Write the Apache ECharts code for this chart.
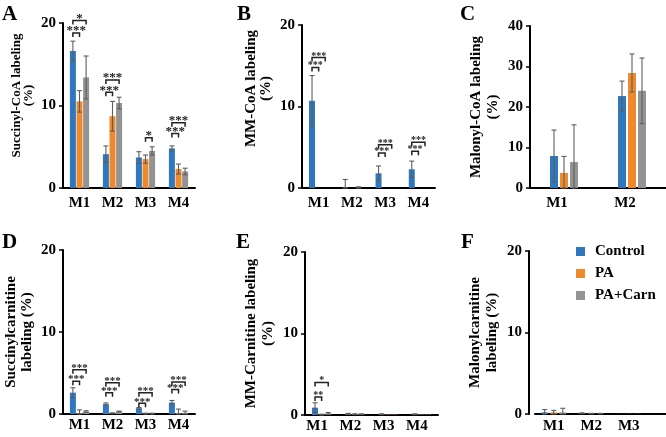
<!DOCTYPE html>
<html><head><meta charset="utf-8">
<script src="https://cdn.jsdelivr.net/npm/echarts@6/dist/echarts.min.js"></script>
<style>html,body{margin:0;padding:0;background:#fff}#c{width:666px;height:437px}</style>
</head><body><div id="c"></div>
<script>
// ---------- data ----------
const seriesNames = ['Control', 'PA', 'PA+Carn'];
const catsA = ['M1', 'M2', 'M3', 'M4'];
const aCtrl = [16.6, 4.1, 3.7, 4.8];   const aCtrlErr = [1.2, 1.0, 0.7, 0.3];
const aPA   = [10.5, 8.7, 3.5, 2.3];   const aPAErr   = [1.3, 1.8, 0.5, 0.6];
const aCarn = [13.4, 10.3, 4.5, 2.0];  const aCarnErr = [2.6, 0.7, 0.5, 0.4];
const aSig = [[0,0,1,18.8,'***'],[0,0,2,20.3,'*'],[1,0,1,11.6,'***'],[1,0,2,13.1,'***'],[2,1,2,6.1,'*'],[3,0,1,6.6,'***'],[3,0,2,7.9,'***']];

const catsB = ['M1', 'M2', 'M3', 'M4'];
const bCtrl = [10.7, 0.05, 1.8, 2.3];  const bCtrlErr = [3.1, 1.0, 0.9, 1.0];
const bPA   = [0, 0, 0, 0];            const bPAErr   = [0, 0, 0, 0];
const bCarn = [0, 0.05, 0, 0];         const bCarnErr = [0, 0.1, 0, 0];
const bSig = [[0,0,1,14.8,'***'],[0,0,2,16.0,'***'],[2,0,1,4.3,'***'],[2,0,2,5.3,'***'],[3,0,1,4.5,'***'],[3,0,2,5.6,'***']];

const catsC = ['M1', 'M2'];
const cCtrl = [7.9, 22.7];  const cCtrlErr = [6.4, 3.7];
const cPA   = [3.7, 28.4];  const cPAErr   = [4.1, 4.7];
const cCarn = [6.4, 24.0];  const cCarnErr = [9.2, 8.1];
const cSig = [];

const catsD = ['M1', 'M2', 'M3', 'M4'];
const dCtrl = [2.6, 1.2, 0.7, 1.4];     const dCtrlErr = [0.6, 0.15, 0.1, 0.25];
const dPA   = [0.1, 0.1, 0.05, 0.1];    const dPAErr   = [0.4, 0.05, 0.05, 0.5];
const dCarn = [0.3, 0.3, 0.05, 0.15];   const dCarnErr = [0.1, 0.05, 0.05, 0.2];
const dSig = [[0,0,1,4.0,'***'],[0,0,2,5.4,'***'],[1,0,1,2.6,'***'],[1,0,2,3.8,'***'],[2,0,1,1.3,'***'],[2,0,2,2.6,'***'],[3,0,1,3.0,'***'],[3,0,2,3.9,'***']];

const catsE = ['M1', 'M2', 'M3', 'M4'];
const eCtrl = [0.9, 0.15, 0.1, 0.1];    const eCtrlErr = [0.6, 0.05, 0.05, 0.05];
const ePA   = [0.05, 0.1, 0.05, 0.05];  const ePAErr   = [0.05, 0.05, 0, 0];
const eCarn = [0.2, 0.1, 0.05, 0.05];   const eCarnErr = [0.1, 0.05, 0, 0];
const eSig = [[0,0,1,2.2,'**'],[0,0,2,4.0,'*']];

const catsF = ['M1', 'M2', 'M3'];
const fCtrl = [0.2, 0.1, 0.02];   const fCtrlErr = [0.35, 0.05, 0];
const fPA   = [0.2, 0.05, 0.02];  const fPAErr   = [0.25, 0.03, 0];
const fCarn = [0.2, 0.05, 0.02];  const fCarnErr = [0.5, 0.03, 0];
const fSig = [];

// ---------- layout / style ----------
const FONT = '"Liberation Serif","Times New Roman",serif';
const COLORS = ['#2f78bd', '#ee8a2d', '#939393'];
const ERR = '#5e5e5e';

const panels = [
  {letter:'A', lx:2, ly:4, cats:catsA, vals:[aCtrl,aPA,aCarn], errs:[aCtrlErr,aPAErr,aCarnErr], sig:aSig, max:20, interval:10,
   name:'Succinyl-CoA labeling\n(%)', grid:{left:63, top:23, width:132, height:165}, bw:6, gap:0.1, nfs:13, nlh:12, npad:20, lpad:0, lm:8, sfs:13, yoff:0},
  {letter:'B', lx:237, ly:4, cats:catsB, vals:[bCtrl,bPA,bCarn], errs:[bCtrlErr,bPAErr,bCarnErr], sig:bSig, max:20, interval:10,
   name:'MM-CoA labeling\n(%)', grid:{left:302, top:25, width:133, height:163}, bw:6, gap:0.1, nfs:15, nlh:15, npad:36, lpad:0, lm:8, sfs:10, yoff:0},
  {letter:'C', lx:460, ly:4, cats:catsC, vals:[cCtrl,cPA,cCarn], errs:[cCtrlErr,cPAErr,cCarnErr], sig:cSig, max:40, interval:10,
   name:'Malonyl-CoA labeling\n(%)', grid:{left:530, top:26, width:136, height:162}, bw:8, gap:0.25, nfs:15, nlh:17, npad:0, lpad:14, lm:8, sfs:10, yoff:0},
  {letter:'D', lx:2, ly:232, cats:catsD, vals:[dCtrl,dPA,dCarn], errs:[dCtrlErr,dPAErr,dCarnErr], sig:dSig, max:20, interval:10,
   name:'Succinylcarnitine\nlabeling (%)', grid:{left:63, top:250, width:132, height:164}, bw:6, gap:0.1, nfs:15, nlh:16, npad:0, lpad:0, lm:4, sfs:11, yoff:0},
  {letter:'E', lx:236, ly:232, cats:catsE, vals:[eCtrl,ePA,eCarn], errs:[eCtrlErr,ePAErr,eCarnErr], sig:eSig, max:20, interval:10,
   name:'MM-Carnitine labeling\n(%)', grid:{left:305, top:252, width:133, height:163}, bw:6, gap:0.1, nfs:15, nlh:17, npad:0, lpad:9, lm:4, sfs:10, yoff:0},
  {letter:'F', lx:461, ly:232, cats:catsF, vals:[fCtrl,fPA,fCarn], errs:[fCtrlErr,fPAErr,fCarnErr], sig:fSig, max:20, interval:10,
   name:'Malonylcarnitine\nlabeling (%)', grid:{left:535, top:251, width:150, height:163}, bw:7, gap:0.3, nfs:15, nlh:17, npad:0, lpad:0, lm:5, sfs:10, yoff:6, extraCat:true}
];

const grids = [], xAxes = [], yAxes = [], series = [], titles = [];
panels.forEach((p, i) => {
  grids.push(Object.assign({outerBoundsMode:'none', containLabel:false}, p.grid));
  titles.push({text:p.letter, left:p.lx, top:p.ly, padding:0, textStyle:{fontFamily:FONT, fontWeight:'bold', fontSize:21, color:'#000'}});
  xAxes.push({type:'category', gridIndex:i, data: p.extraCat ? p.cats.concat(['']) : p.cats,
    axisLine:{show:true, lineStyle:{color:'#000', width:2}}, axisTick:{show:false},
    axisLabel:{fontFamily:FONT, fontWeight:'bold', fontSize:15, color:'#000', margin:p.lm, padding:[0, p.lpad, 0, 0]}});
  yAxes.push({type:'value', gridIndex:i, min:0, max:p.max, interval:p.interval, offset:p.yoff,
    axisLine:{show:true, lineStyle:{color:'#000', width:2}},
    axisTick:{show:true, length:4, lineStyle:{color:'#000', width:1.5}},
    splitLine:{show:false},
    axisLabel:{fontFamily:FONT, fontWeight:'bold', fontSize:15, color:'#000', margin:7},
    name:p.name, nameLocation:'middle', nameRotate:90, nameGap:28,
    nameTextStyle:{fontFamily:FONT, fontWeight:'bold', fontSize:p.nfs, color:'#000', lineHeight:p.nlh, align:'center', padding:[0,0,0,p.npad]}});
  const step = p.bw * (1 + p.gap);
  p.vals.forEach((v, s) => {
    series.push({type:'bar', name:seriesNames[s], xAxisIndex:i, yAxisIndex:i, data:v, barWidth:p.bw, barGap:(p.gap*100)+'%',
      itemStyle:{color:COLORS[s]}, animation:false});
  });
  // error bars
  const errData = [];
  p.vals.forEach((v, s) => v.forEach((val, c) => errData.push([c, val, s, p.errs[s][c]])));
  series.push({type:'custom', xAxisIndex:i, yAxisIndex:i, data:errData, encode:{x:0, y:1}, clip:false, animation:false, silent:true, z:5,
    renderItem:(params, api) => {
      const c = api.value(0), v = api.value(1), s = api.value(2), e = api.value(3);
      if (!(e > 0)) return null;
      const x = api.coord([c, v])[0] + (s - 1) * step;
      const yt = api.coord([c, v + e])[1];
      const yb = api.coord([c, Math.max(0, v - e)])[1];
      const st = {stroke:ERR, lineWidth:1.1};
      return {type:'group', children:[
        {type:'line', shape:{x1:x, y1:yt, x2:x, y2:yb}, style:st},
        {type:'line', shape:{x1:x-2.5, y1:yt, x2:x+2.5, y2:yt}, style:st},
        {type:'line', shape:{x1:x-2.5, y1:yb, x2:x+2.5, y2:yb}, style:st}
      ]};
    }});
  // significance brackets
  if (p.sig.length) {
    series.push({type:'custom', xAxisIndex:i, yAxisIndex:i, data:p.sig.map(d => [d[0], d[3], d[1], d[2]]), encode:{x:0, y:1},
      clip:false, animation:false, silent:true, z:6,
      renderItem:(params, api) => {
        const d = p.sig[params.dataIndex];
        const pt = api.coord([api.value(0), api.value(1)]);
        const x1 = pt[0] + (api.value(2) - 1) * step, x2 = pt[0] + (api.value(3) - 1) * step;
        const y = pt[1];
        return {type:'group', children:[
          {type:'polyline', shape:{points:[[x1, y+4],[x1, y],[x2, y],[x2, y+4]]}, style:{stroke:'#222', lineWidth:1.5, fill:null}},
          {type:'text', style:{text:d[4], x:(x1+x2)/2, y:y + p.sfs*0.35, align:'center', verticalAlign:'bottom', font:'bold ' + p.sfs + 'px ' + FONT, fill:'#222'}}
        ]};
      }});
  }
});

const chart = echarts.init(document.getElementById('c'), null, {renderer:'canvas'});
chart.setOption({
  backgroundColor:'#fff', animation:false,
  title:titles, grid:grids, xAxis:xAxes, yAxis:yAxes, series:series,
  legend:{data:seriesNames, orient:'vertical', left:576, top:244, padding:0, itemWidth:9, itemHeight:9, itemGap:7, icon:'rect',
    textStyle:{fontFamily:FONT, fontWeight:'bold', fontSize:15, color:'#000', padding:[0,0,0,5]}}
});
</script></body></html>
